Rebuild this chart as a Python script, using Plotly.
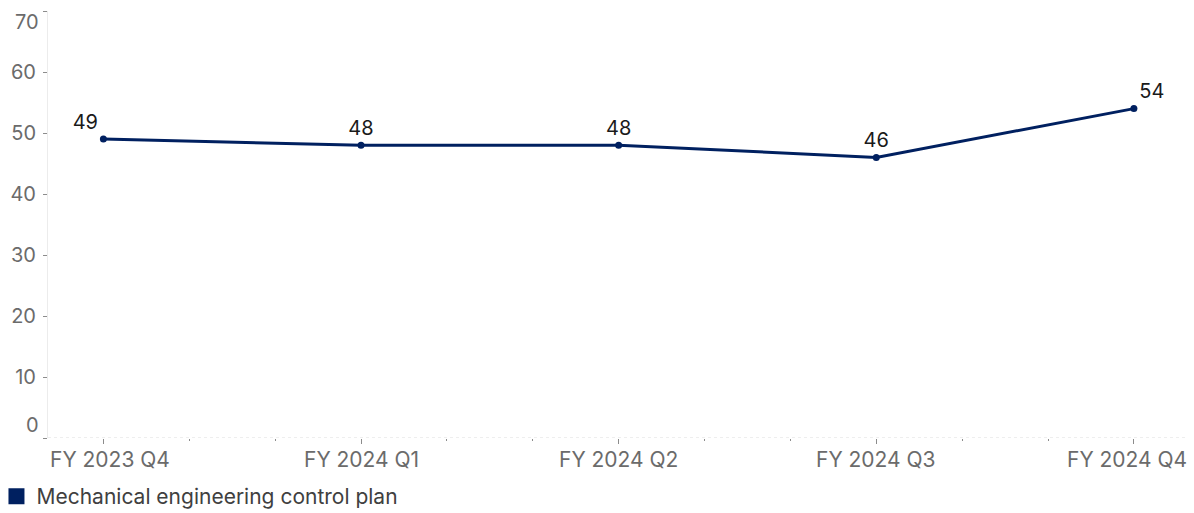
import plotly.graph_objects as go

categories = ["FY 2023 Q4", "FY 2024 Q1", "FY 2024 Q2", "FY 2024 Q3", "FY 2024 Q4"]
values = [49, 48, 48, 46, 54]
series_name = "Mechanical engineering control plan"
y_ticks = [0, 10, 20, 30, 40, 50, 60, 70]

NAVY = "#002060"
FONT = "Inter, Lato, sans-serif"
LABEL_GRAY = "#6b6b6b"
xpos = list(range(len(categories)))
text_pos = ["top left"] + ["top center"] * (len(values) - 2) + ["top right"]

fig = go.Figure()
fig.add_trace(go.Scatter(
    x=xpos, y=values, mode="lines+markers+text",
    text=[str(v) for v in values], textposition=text_pos,
    textfont=dict(size=20, color="#1a1a1a", family=FONT),
    line=dict(color=NAVY, width=3), marker=dict(color=NAVY, size=7),
    showlegend=False, cliponaxis=False, hoverinfo="skip",
))
fig.add_trace(go.Scatter(
    x=[None], y=[None], mode="markers", name=series_name,
    marker=dict(symbol="square", color=NAVY, size=16),
    showlegend=True,
))

annotations = []
# Edge y labels (0 and 70) are nudged inward
ticktext = ["" if t in (y_ticks[0], y_ticks[-1]) else str(t) for t in y_ticks]
for t, shift in ((y_ticks[0], 13), (y_ticks[-1], -11)):
    annotations.append(dict(
        x=0, xref="paper", xanchor="right", xshift=-7, y=t, yref="y",
        yshift=shift, text=str(t), showarrow=False,
        font=dict(size=20, color=LABEL_GRAY, family=FONT)))
# X category labels; first/last nudged inward to stay inside the chart
for i, cat in enumerate(categories):
    xs = 7 if i == 0 else (-7 if i == len(categories) - 1 else 0)
    annotations.append(dict(
        x=xpos[i], xref="x", xanchor="center", xshift=xs,
        y=0, yref="paper", yanchor="top", yshift=-7,
        text=cat, showarrow=False,
        font=dict(size=21, color=LABEL_GRAY, family=FONT)))

fig.update_layout(
    width=1194, height=513,
    margin=dict(l=48, r=6, t=11, b=75, autoexpand=False),
    paper_bgcolor="white", plot_bgcolor="white",
    font=dict(family=FONT, color=LABEL_GRAY, size=20),
    annotations=annotations,
    shapes=[dict(type="line", xref="paper", x0=0, x1=1, yref="y", y0=0, y1=0,
                 line=dict(color="#dddddd", width=1, dash="dot"), layer="below")],
    legend=dict(orientation="h", x=-0.0452, xanchor="left",
                yref="container", y=0.072, yanchor="top",
                font=dict(size=21, color="#404040", family=FONT),
                itemsizing="trace"),
)
fig.update_xaxes(
    range=[-0.215, 4.21], tickmode="array", tickvals=xpos,
    ticktext=[""] * len(categories),
    ticks="outside", ticklen=5, tickcolor="#8c8c8c", tickwidth=1,
    showgrid=False, zeroline=False, showline=False, automargin=False,
    minor=dict(dtick=1/3, tick0=0, ticks="outside", ticklen=2,
               tickcolor="#8c8c8c", showgrid=False),
)
fig.update_yaxes(
    range=[0, 70], tickmode="array", tickvals=y_ticks, ticktext=ticktext,
    ticks="outside", ticklen=4, tickcolor="#8c8c8c", tickwidth=1,
    showgrid=False, zeroline=False, showline=True, linecolor="#ececec", linewidth=1,
    tickfont=dict(size=20, color=LABEL_GRAY), ticklabelstandoff=3, automargin=False,
)

fig.write_html("out.html", config={"displayModeBar": False},
               post_script="document.body.style.margin='0';")
